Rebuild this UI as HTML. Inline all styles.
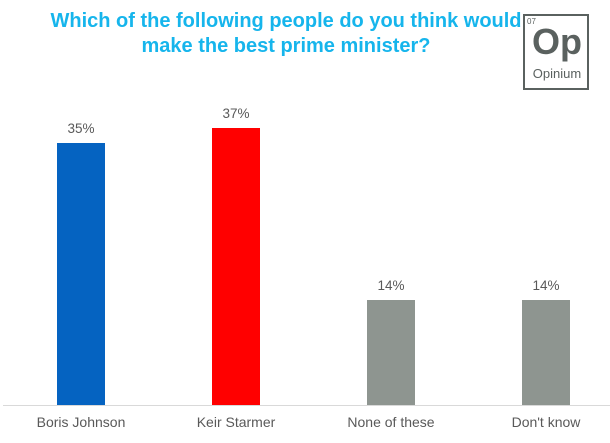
<!DOCTYPE html>
<html><head><style>
body{margin:0;width:610px;height:443px;background:#fff;position:relative;overflow:hidden;font-family:"Liberation Sans",sans-serif}
.t{position:absolute;left:0;width:572px;top:9px;text-align:center;color:#16b5ec;font-weight:bold;font-size:20px;line-height:25px}
.b{position:absolute;width:48px;bottom:38px}
.v,.l{position:absolute;width:120px;text-align:center;color:#595959;font-size:13.5px}
.l{top:414px;font-size:14px}
</style></head><body>
<div class="t">Which of the following people do you think would<br>make the best prime minister?</div>
<div style="position:absolute;left:523px;top:14px;width:62px;height:72px;border:2px solid #5a615f;background:#fff"></div>
<div style="position:absolute;left:527px;top:17px;font-size:8px;color:#5a615f">07</div>
<div style="position:absolute;left:524px;top:21px;width:66px;text-align:center;font-size:36px;font-weight:bold;color:#5a615f">Op</div>
<div style="position:absolute;left:524px;top:66px;width:66px;text-align:center;font-size:13px;color:#5a615f">Opinium</div>
<div style="position:absolute;left:3px;right:0;top:405px;height:1px;background:#d9d9d9"></div>
<div class="b" style="left:57px;top:143px;background:#0563c1;height:262px"></div>
<div class="b" style="left:212px;top:128px;background:#ff0000;height:277px"></div>
<div class="b" style="left:367px;top:300px;background:#8e9590;height:105px"></div>
<div class="b" style="left:522px;top:300px;background:#8e9590;height:105px"></div>
<div class="v" style="left:21px;top:121px">35%</div>
<div class="v" style="left:176px;top:106px">37%</div>
<div class="v" style="left:331px;top:278px">14%</div>
<div class="v" style="left:486px;top:278px">14%</div>
<div class="l" style="left:21px">Boris Johnson</div>
<div class="l" style="left:176px">Keir Starmer</div>
<div class="l" style="left:331px">None of these</div>
<div class="l" style="left:486px">Don't know</div>
</body></html>
